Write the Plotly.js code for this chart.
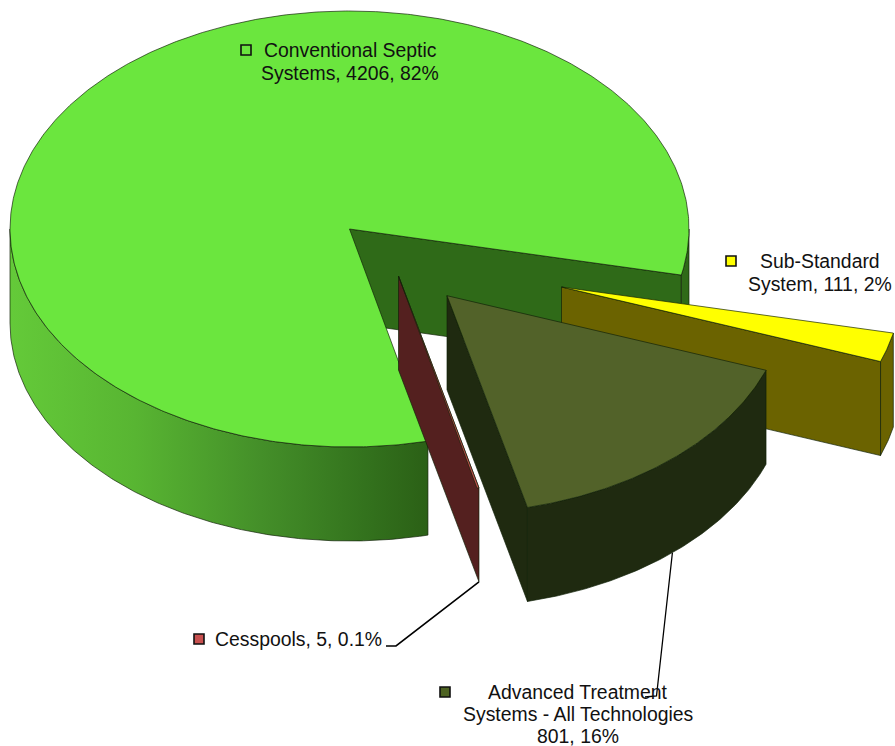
<!DOCTYPE html>
<html>
<head>
<meta charset="utf-8">
<script src="https://cdn.plot.ly/plotly-3.0.1.min.js"></script>
<style>html,body{margin:0;padding:0;background:#fff}#chart{width:895px;height:746px}</style>
</head>
<body>
<div id="chart"></div>
<script>
// Wastewater systems by type: counts per category, drawn clockwise from the first slice.
const categories = ["Sub-Standard System", "Advanced Treatment Systems - All Technologies", "Cesspools", "Conventional Septic Systems"];
const counts = [111, 801, 5, 4206];
const percentText = ["2%", "16%", "0.1%", "82%"];
const labelLines = [
  ["Sub-Standard", "System, 111, 2%"],
  ["Advanced Treatment", "Systems - All Technologies", "801, 16%"],
  ["Cesspools, 5, 0.1%"],
  ["Conventional Septic", "Systems, 4206, 82%"]
];
const topColors = ["#ffff00", "#526229", "#c0504d", "#6be63e"];
const wallColors = ["#6b6300", "#1f2a10", "#54201f", "#2f6a18"];
const keyColors = ["#ffff00", "#4e6322", "#c8504f", "#6be63e"];

// Projection of the tilted disc onto the page.
const cx = 349.5, cy = 229, rx = 339.5, ry = 218, depth = 94, startDeg = 12.2;
const explode = [[212, 58], [97.5, 66.7], [49, 47], [0, 0]];
const edge = "rgba(16,32,8,0.85)";

const total = counts.reduce((a, b) => a + b, 0);
let running = startDeg;
const spans = counts.map(v => { const s = running; running += v / total * 360; return [s, running]; });

function rimPoint(deg, off, drop) {
  const t = deg * Math.PI / 180;
  return [cx + off[0] + rx * Math.cos(t), cy + off[1] + drop + ry * Math.sin(t)];
}
function arc(a, b, off, drop) {
  const n = Math.max(2, Math.ceil(Math.abs(b - a) / 0.5));
  const pts = [];
  for (let i = 0; i <= n; i++) pts.push(rimPoint(a + (b - a) * i / n, off, drop));
  return pts;
}
function poly(pts, fill, extra) {
  return Object.assign({
    type: "scatter", mode: "lines", hoverinfo: "skip", showlegend: false,
    x: pts.map(p => p[0]).concat(pts[0][0]),
    y: pts.map(p => p[1]).concat(pts[0][1]),
    fill: "toself", fillcolor: fill,
    line: {color: edge, width: 0.8}
  }, extra || {});
}
function apex(off, drop) { return [cx + off[0], cy + off[1] + drop]; }

// Faces of one slice, painted back to front.
function cutWall(deg, i) {
  const o = explode[i];
  return poly([apex(o, 0), rimPoint(deg, o, 0), rimPoint(deg, o, depth), apex(o, depth)], wallColors[i]);
}
function rimWall(a, b, i, extra) {
  const o = explode[i];
  return poly(arc(a, b, o, 0).concat(arc(b, a, o, depth)), wallColors[i], extra);
}
function topFace(a, b, i) {
  const o = explode[i];
  return poly([apex(o, 0)].concat(arc(a, b, o, 0)), topColors[i]);
}

const traces = [];
const [sub, adv, cess, conv] = spans;

// Conventional septic body
traces.push(cutWall(startDeg, 3));
traces.push(rimWall(0, startDeg, 3));
traces.push(rimWall(conv[0], 180, 3, {
  fillgradient: {
    type: "horizontal",
    colorscale: [[0, "#64ca39"], [0.3, "#58b532"], [0.6, "#448f29"], [0.85, "#33721d"], [1, "#2b6016"]]
  }
}));
traces.push(topFace(conv[0], conv[1], 3));

// Sub-standard slice
traces.push(rimWall(sub[0], sub[1], 0));
traces.push(cutWall(sub[1], 0));
traces.push(topFace(sub[0], sub[1], 0));

// Cesspools sliver
traces.push(cutWall(cess[0], 2));
traces.push(topFace(cess[0], cess[1], 2));

// Advanced treatment slice
traces.push(cutWall(adv[1], 1));
traces.push(rimWall(adv[0], adv[1], 1));
traces.push(topFace(adv[0], adv[1], 1));

// Leader lines from the two small labels to their slices
const cessTip = rimPoint(cess[0], explode[2], depth);
traces.push({
  type: "scatter", mode: "lines", hoverinfo: "skip", showlegend: false,
  x: [386, 396, cessTip[0]], y: [646, 646, cessTip[1]],
  line: {color: "#000", width: 1.6}
});
const advAnchor = rimPoint(48.4, explode[1], depth);
traces.push({
  type: "scatter", mode: "lines", hoverinfo: "skip", showlegend: false,
  x: [advAnchor[0], 656.5, 645], y: [advAnchor[1], 696, 697],
  line: {color: "#000", width: 1.3}
});

// Label anchors: [centre x, first line y, line step, key x, key y]
const labelAnchors = [
  [820, 261, 23.2, 731, 261],
  [578, 692, 21.8, 445, 692],
  [298.5, 639, 23.2, 199, 639],
  [350, 50, 23.2, 246, 50]
];

// Colour keys beside each label
traces.push({
  type: "scatter", mode: "markers", hoverinfo: "skip", showlegend: false,
  x: labelAnchors.map(a => a[3]), y: labelAnchors.map(a => a[4]),
  marker: {symbol: "square", size: 10, color: keyColors, line: {color: "#111", width: 1.6}}
});

const annotations = [];
labelLines.forEach((lines, i) => {
  lines.forEach((text, k) => {
    annotations.push({
      x: labelAnchors[i][0], y: labelAnchors[i][1] + k * labelAnchors[i][2],
      xref: "x", yref: "y", text: text, showarrow: false,
      xanchor: "center", yanchor: "middle",
      font: {family: "Liberation Sans, Arial, sans-serif", size: 19.4, color: "#111"}
    });
  });
});

const hidden = {visible: false, fixedrange: true};
Plotly.newPlot("chart", traces, {
  width: 895, height: 746,
  margin: {l: 0, r: 0, t: 0, b: 0},
  paper_bgcolor: "#fff", plot_bgcolor: "#fff",
  showlegend: false,
  xaxis: Object.assign({range: [0, 895]}, hidden),
  yaxis: Object.assign({range: [746, 0]}, hidden),
  annotations: annotations
}, {displayModeBar: false, staticPlot: true});
</script>
</body>
</html>
